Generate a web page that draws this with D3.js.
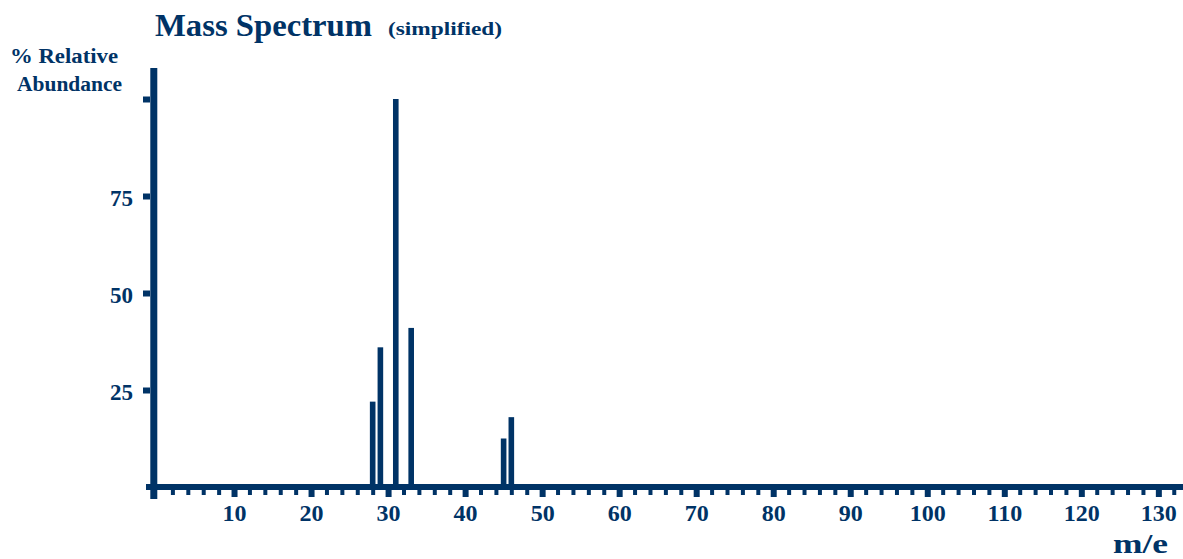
<!DOCTYPE html>
<html>
<head>
<meta charset="utf-8">
<script src="https://cdn.jsdelivr.net/npm/d3@7"></script>
<style>
    body { margin: 0; background: #fff; }
    svg { display: block; }
    text { font-family: "Liberation Serif", "DejaVu Serif", serif; font-weight: bold; fill: #003366; }
</style>
</head>
<body>
<div id="chart"></div>
<script>
const WIDTH = 1183;
const HEIGHT = 559;
const INK = "#003366";

// peaks
const massToCharge = [28, 29, 31, 33, 45, 46];
const abundance = [22, 36, 100, 41, 12.5, 18];

const xMinorTicks = d3.range(2, 134, 2);
const xMajorTicks = [10, 20, 30, 40, 50, 60, 70, 80, 90, 100, 110, 120, 130];
const yTicks = [25, 50, 75, 100];
const yTickLabels = ["25", "50", "75", ""];

const peaks = massToCharge.map((m, i) => ({ m: m, value: abundance[i] }));

const svg = d3.select("#chart").append("svg")
    .attr("width", WIDTH)
    .attr("height", HEIGHT);

const x = d3.scaleLinear().domain([0, 133.2]).range([157, WIDTH]);
const y = d3.scaleLinear().domain([0, 100]).range([487, 99]);

// bars
svg.selectAll(".bar")
    .data(peaks)
    .enter().append("rect")
    .attr("class", "bar")
    .attr("x", d => x(d.m) - 2.8)
    .attr("width", 5.6)
    .attr("y", d => y(d.value))
    .attr("height", d => y(0) - y(d.value))
    .attr("fill", INK);

// x axis minor ticks
const xMinor = svg.append("g")
    .attr("transform", "translate(0," + (y(0) + 3) + ")")
    .call(d3.axisBottom(x).tickValues(xMinorTicks.filter(v => v % 10 !== 0)).tickSize(5).tickSizeOuter(0).tickFormat(""));
xMinor.select(".domain").remove();
xMinor.selectAll(".tick line").attr("stroke", INK).attr("stroke-width", 4);

// x axis major ticks + labels
const xMajor = svg.append("g")
    .attr("transform", "translate(0," + (y(0) + 3) + ")")
    .call(d3.axisBottom(x).tickValues(xMajorTicks).tickSize(7).tickSizeOuter(0).tickPadding(7).tickFormat(d3.format("d")));
xMajor.select(".domain").remove();
xMajor.selectAll(".tick line").attr("stroke", INK).attr("stroke-width", 6);
xMajor.selectAll(".tick text")
    .attr("fill", INK)
    .style("font-size", "24px")
    .style("font-family", "Liberation Serif, serif")
    .style("font-weight", "bold");

// y axis ticks + labels
const yAxis = svg.append("g")
    .attr("transform", "translate(150,0)")
    .call(d3.axisLeft(y).tickValues(yTicks).tickSize(7).tickSizeOuter(0).tickPadding(10)
        .tickFormat((d, i) => yTickLabels[i]));
yAxis.select(".domain").remove();
yAxis.selectAll(".tick line").attr("stroke", INK).attr("stroke-width", 6);
yAxis.selectAll(".tick text")
    .attr("fill", INK)
    .attr("dy", "0.4em")
    .style("font-size", "23px")
    .style("font-family", "Liberation Serif, serif")
    .style("font-weight", "bold");

// axis lines
svg.append("line")
    .attr("x1", 146).attr("x2", WIDTH)
    .attr("y1", y(0)).attr("y2", y(0))
    .attr("stroke", INK).attr("stroke-width", 6);

svg.append("line")
    .attr("x1", 153.8).attr("x2", 153.8)
    .attr("y1", y(108)).attr("y2", y(0) + 12)
    .attr("stroke", INK).attr("stroke-width", 7);

// titles
svg.append("text")
    .attr("x", 155).attr("y", 36)
    .attr("textLength", 217).attr("lengthAdjust", "spacingAndGlyphs")
    .style("font-size", "32px")
    .text("Mass Spectrum");

svg.append("text")
    .attr("x", 388).attr("y", 35)
    .attr("textLength", 114).attr("lengthAdjust", "spacingAndGlyphs")
    .style("font-size", "19px")
    .text("(simplified)");

svg.append("text")
    .attr("x", 10).attr("y", 63)
    .attr("textLength", 108).attr("lengthAdjust", "spacingAndGlyphs")
    .style("font-size", "20px")
    .text("% Relative");

svg.append("text")
    .attr("x", 17).attr("y", 91)
    .attr("textLength", 105).attr("lengthAdjust", "spacingAndGlyphs")
    .style("font-size", "20px")
    .text("Abundance");

svg.append("text")
    .attr("x", 1113).attr("y", 553)
    .attr("textLength", 55).attr("lengthAdjust", "spacingAndGlyphs")
    .style("font-size", "28px")
    .text("m/e");
</script>
</body>
</html>
